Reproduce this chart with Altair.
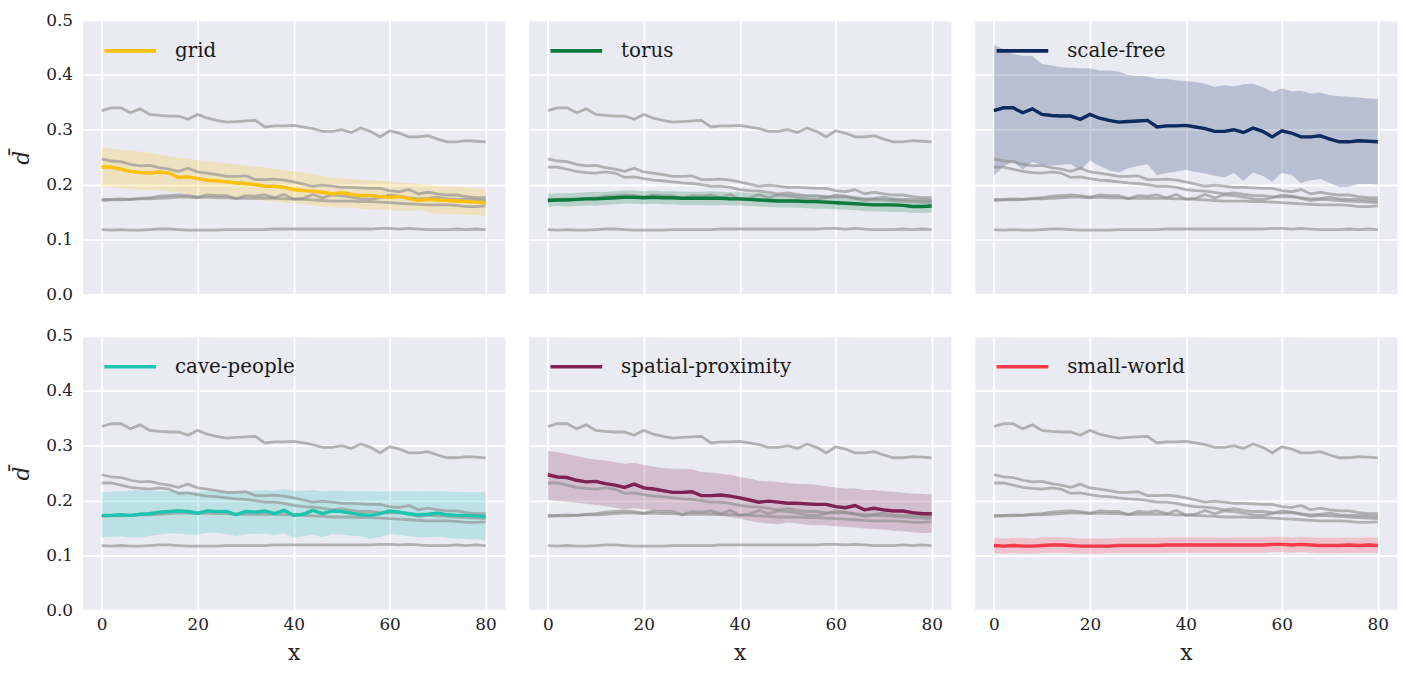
import altair as alt
import pandas as pd

X = [0, 2, 4, 6, 8, 10, 12, 14, 16, 18, 20, 22, 24, 26, 28, 30, 32, 34, 36, 38, 40,
     42, 44, 46, 48, 50, 52, 54, 56, 58, 60, 62, 64, 66, 68, 70, 72, 74, 76, 78, 80]

NAMES = ["grid", "torus", "scale-free", "cave-people", "spatial-proximity", "small-world"]
COLORS = ["#FFC20A", "#0C7B3E", "#0D2B5E", "#1CC5B0", "#7F2352", "#FF3B4A"]

grid_mean = [0.232, 0.232, 0.228, 0.224, 0.222, 0.221, 0.223, 0.221, 0.213, 0.214, 0.211, 0.208, 0.207, 0.205,
             0.203, 0.202, 0.200, 0.197, 0.197, 0.195, 0.191, 0.189, 0.188, 0.186, 0.183, 0.185, 0.182, 0.180,
             0.180, 0.178, 0.177, 0.178, 0.175, 0.171, 0.173, 0.172, 0.171, 0.170, 0.169, 0.168, 0.167]
grid_hi = [0.268, 0.266, 0.264, 0.262, 0.260, 0.258, 0.255, 0.252, 0.249, 0.247, 0.245, 0.243, 0.241, 0.239,
           0.237, 0.235, 0.233, 0.231, 0.229, 0.226, 0.224, 0.222, 0.219, 0.216, 0.213, 0.211, 0.210, 0.209,
           0.208, 0.207, 0.206, 0.204, 0.203, 0.201, 0.200, 0.198, 0.197, 0.196, 0.195, 0.194, 0.192]
grid_lo = [0.196, 0.195, 0.194, 0.192, 0.190, 0.190, 0.189, 0.188, 0.186, 0.183, 0.181, 0.180, 0.178, 0.177,
           0.176, 0.175, 0.172, 0.171, 0.169, 0.167, 0.167, 0.164, 0.162, 0.160, 0.159, 0.158, 0.158, 0.156,
           0.155, 0.154, 0.153, 0.152, 0.152, 0.153, 0.150, 0.147, 0.147, 0.146, 0.145, 0.144, 0.143]

torus_mean = [0.171, 0.172, 0.172, 0.173, 0.174, 0.174, 0.175, 0.176, 0.177, 0.177, 0.176, 0.177, 0.176, 0.176,
              0.175, 0.175, 0.175, 0.175, 0.175, 0.174, 0.174, 0.173, 0.172, 0.171, 0.170, 0.170, 0.170, 0.169,
              0.169, 0.168, 0.167, 0.166, 0.165, 0.164, 0.163, 0.163, 0.163, 0.162, 0.160, 0.160, 0.161]
torus_hi = [0.183, 0.184, 0.184, 0.185, 0.186, 0.187, 0.187, 0.188, 0.189, 0.189, 0.188, 0.189, 0.188, 0.188,
            0.187, 0.187, 0.187, 0.188, 0.187, 0.186, 0.186, 0.185, 0.184, 0.183, 0.182, 0.182, 0.182, 0.181,
            0.181, 0.180, 0.179, 0.178, 0.177, 0.176, 0.175, 0.175, 0.175, 0.174, 0.172, 0.172, 0.173]
torus_lo = [0.160, 0.161, 0.160, 0.161, 0.162, 0.162, 0.163, 0.164, 0.165, 0.165, 0.164, 0.165, 0.164, 0.164,
            0.163, 0.163, 0.163, 0.162, 0.163, 0.162, 0.162, 0.161, 0.160, 0.159, 0.158, 0.158, 0.158, 0.157,
            0.156, 0.156, 0.155, 0.154, 0.153, 0.152, 0.151, 0.151, 0.150, 0.150, 0.148, 0.148, 0.149]

sf_mean = [0.335, 0.340, 0.340, 0.331, 0.338, 0.328, 0.326, 0.325, 0.325, 0.319, 0.328, 0.321, 0.317, 0.314,
           0.315, 0.316, 0.317, 0.305, 0.307, 0.307, 0.308, 0.305, 0.302, 0.297, 0.297, 0.300, 0.295, 0.303,
           0.297, 0.287, 0.298, 0.294, 0.287, 0.287, 0.289, 0.283, 0.278, 0.278, 0.280, 0.279, 0.278]
sf_hi = [0.454, 0.447, 0.438, 0.435, 0.435, 0.420, 0.417, 0.414, 0.413, 0.412, 0.412, 0.408, 0.408, 0.406,
         0.400, 0.398, 0.397, 0.393, 0.393, 0.390, 0.389, 0.387, 0.384, 0.378, 0.381, 0.379, 0.383, 0.384,
         0.378, 0.369, 0.375, 0.370, 0.371, 0.366, 0.368, 0.363, 0.361, 0.360, 0.359, 0.357, 0.356]
sf_lo = [0.216, 0.233, 0.242, 0.227, 0.241, 0.236, 0.235, 0.236, 0.237, 0.226, 0.244, 0.234, 0.226, 0.222,
         0.230, 0.234, 0.237, 0.217, 0.221, 0.224, 0.227, 0.223, 0.220, 0.216, 0.213, 0.221, 0.207, 0.222,
         0.216, 0.205, 0.221, 0.218, 0.203, 0.208, 0.210, 0.203, 0.195, 0.196, 0.201, 0.201, 0.200]

cave_mean = [0.173, 0.173, 0.174, 0.173, 0.175, 0.176, 0.179, 0.180, 0.181, 0.180, 0.177, 0.181, 0.180, 0.180,
             0.174, 0.180, 0.179, 0.181, 0.176, 0.182, 0.173, 0.175, 0.182, 0.176, 0.181, 0.180, 0.177, 0.174,
             0.173, 0.176, 0.181, 0.179, 0.176, 0.174, 0.175, 0.177, 0.174, 0.173, 0.173, 0.172, 0.171]
cave_hi = [0.215, 0.216, 0.217, 0.218, 0.219, 0.218, 0.217, 0.217, 0.217, 0.216, 0.216, 0.217, 0.217, 0.217,
           0.216, 0.217, 0.218, 0.219, 0.218, 0.221, 0.218, 0.218, 0.219, 0.217, 0.218, 0.218, 0.217, 0.217,
           0.217, 0.216, 0.217, 0.217, 0.217, 0.216, 0.217, 0.217, 0.216, 0.216, 0.215, 0.215, 0.215]
cave_lo = [0.133, 0.134, 0.135, 0.133, 0.132, 0.136, 0.138, 0.140, 0.140, 0.138, 0.138, 0.141, 0.141, 0.139,
           0.135, 0.139, 0.139, 0.140, 0.137, 0.141, 0.132, 0.135, 0.138, 0.133, 0.139, 0.138, 0.136, 0.135,
           0.131, 0.133, 0.139, 0.137, 0.135, 0.133, 0.133, 0.134, 0.132, 0.131, 0.130, 0.129, 0.127]

sp_mean = [0.247, 0.243, 0.242, 0.237, 0.234, 0.235, 0.231, 0.228, 0.224, 0.230, 0.223, 0.221, 0.218, 0.215,
           0.215, 0.216, 0.209, 0.209, 0.210, 0.208, 0.205, 0.201, 0.197, 0.199, 0.197, 0.195, 0.195, 0.194,
           0.193, 0.193, 0.189, 0.187, 0.191, 0.183, 0.186, 0.183, 0.181, 0.181, 0.178, 0.176, 0.176]
sp_hi = [0.291, 0.288, 0.285, 0.281, 0.277, 0.275, 0.273, 0.270, 0.267, 0.269, 0.265, 0.262, 0.259, 0.258,
         0.258, 0.257, 0.252, 0.251, 0.249, 0.247, 0.243, 0.240, 0.236, 0.235, 0.234, 0.232, 0.230, 0.230,
         0.229, 0.226, 0.224, 0.222, 0.222, 0.219, 0.219, 0.217, 0.216, 0.214, 0.213, 0.212, 0.211]
sp_lo = [0.201, 0.199, 0.198, 0.196, 0.194, 0.192, 0.190, 0.187, 0.184, 0.186, 0.184, 0.183, 0.181, 0.180,
         0.178, 0.176, 0.175, 0.174, 0.172, 0.170, 0.167, 0.163, 0.160, 0.158, 0.157, 0.160, 0.158, 0.156,
         0.155, 0.155, 0.153, 0.152, 0.151, 0.149, 0.148, 0.147, 0.145, 0.144, 0.142, 0.141, 0.141]

sw_mean = [0.118, 0.117, 0.118, 0.117, 0.117, 0.118, 0.119, 0.119, 0.118, 0.117, 0.117, 0.117, 0.117, 0.118,
           0.118, 0.118, 0.118, 0.118, 0.119, 0.119, 0.119, 0.119, 0.119, 0.119, 0.119, 0.119, 0.119, 0.119,
           0.119, 0.120, 0.120, 0.119, 0.120, 0.119, 0.118, 0.118, 0.118, 0.119, 0.118, 0.119, 0.118]
sw_hi = [0.132, 0.131, 0.132, 0.132, 0.131, 0.133, 0.133, 0.133, 0.132, 0.131, 0.131, 0.131, 0.131, 0.132,
         0.132, 0.132, 0.132, 0.132, 0.133, 0.133, 0.133, 0.133, 0.133, 0.133, 0.132, 0.133, 0.133, 0.133,
         0.133, 0.134, 0.134, 0.133, 0.134, 0.133, 0.132, 0.132, 0.132, 0.133, 0.132, 0.133, 0.132]
sw_lo = [0.104, 0.103, 0.104, 0.103, 0.103, 0.104, 0.105, 0.105, 0.104, 0.103, 0.103, 0.103, 0.104, 0.104,
         0.104, 0.104, 0.104, 0.104, 0.105, 0.105, 0.105, 0.105, 0.105, 0.105, 0.105, 0.105, 0.105, 0.105,
         0.105, 0.106, 0.106, 0.105, 0.106, 0.105, 0.104, 0.104, 0.104, 0.105, 0.104, 0.105, 0.104]

SERIES = {
    "grid": (grid_mean, grid_lo, grid_hi),
    "torus": (torus_mean, torus_lo, torus_hi),
    "scale-free": (sf_mean, sf_lo, sf_hi),
    "cave-people": (cave_mean, cave_lo, cave_hi),
    "spatial-proximity": (sp_mean, sp_lo, sp_hi),
    "small-world": (sw_mean, sw_lo, sw_hi),
}

rows = []
for name in NAMES:
    m, lo, hi = SERIES[name]
    for xv, a, b, c in zip(X, m, lo, hi):
        rows.append({"network": name, "x": xv, "mean": a, "lo": b, "hi": c})
df = pd.DataFrame(rows)

FONT = "DejaVu Serif"
W, H = 425, 276
XS = alt.Scale(domain=[-4, 84], nice=False, zero=False)
YS = alt.Scale(domain=[0, 0.5], nice=False)


def panel(i, show_x, show_y):
    name, color = NAMES[i], COLORS[i]
    if show_x:
        xax = alt.Axis(values=[0, 20, 40, 60, 80], labels=True, labelPadding=6, title="x")
    else:
        xax = alt.Axis(values=[0, 20, 40, 60, 80], labels=False, title=None)
    if show_y:
        yax = alt.Axis(values=[0, 0.1, 0.2, 0.3, 0.4, 0.5], format=".1f", labels=True,
                       labelPadding=10, title="d\u0304")
    else:
        yax = alt.Axis(values=[0, 0.1, 0.2, 0.3, 0.4, 0.5], labels=False, title=None)
    base = alt.Chart(df)
    band = base.transform_filter(alt.datum.network == name).mark_area(
        color=color, opacity=0.22
    ).encode(
        x=alt.X("x:Q", scale=XS, axis=xax),
        y=alt.Y("lo:Q", scale=YS, axis=yax),
        y2="hi:Q",
    )
    gray = base.mark_line(color="#8c8c8c", opacity=0.62, strokeWidth=2.8).encode(
        x="x:Q", y="mean:Q", detail="network:N"
    )
    line = base.transform_filter(alt.datum.network == name).mark_line(
        color=color, strokeWidth=3.4
    ).encode(x="x:Q", y="mean:Q")
    leg = pd.DataFrame({"network": [name]})
    leg_rule = alt.Chart(leg).mark_rule(color=color, strokeWidth=3.6).encode(
        x=alt.value(22), x2=alt.value(74), y=alt.value(31)
    )
    leg_text = alt.Chart(leg).mark_text(
        align="left", baseline="middle", font=FONT, fontSize=20, color="#1a1a1a"
    ).encode(x=alt.value(93), y=alt.value(31), text="network:N")
    return alt.layer(band, gray, line, leg_rule, leg_text).properties(width=W, height=H)


row1 = alt.hconcat(panel(0, False, True), panel(1, False, False), panel(2, False, False), spacing=22)
row2 = alt.hconcat(panel(3, True, True), panel(4, True, False), panel(5, True, False), spacing=22)

chart = alt.vconcat(row1, row2, spacing=23).properties(
    padding={"left": 2, "top": 0, "right": 0, "bottom": 0},
    background="#FFFFFF",
).configure_view(
    fill="#EAEAF2", stroke="transparent"
).configure_axis(
    grid=True, gridColor="#FFFFFF", gridWidth=1.8, gridOpacity=1, domain=False, ticks=False,
    labelFont=FONT, labelFontSize=17, labelColor="#222222",
    titleFont=FONT, titleFontSize=22, titleColor="#222222", titleFontWeight="normal",
).configure_axisY(
    titleFontStyle="italic", titlePadding=12,
).configure_axisX(
    titlePadding=11,
)

chart.save("out.html", embed_options={"renderer": "svg", "actions": False})
